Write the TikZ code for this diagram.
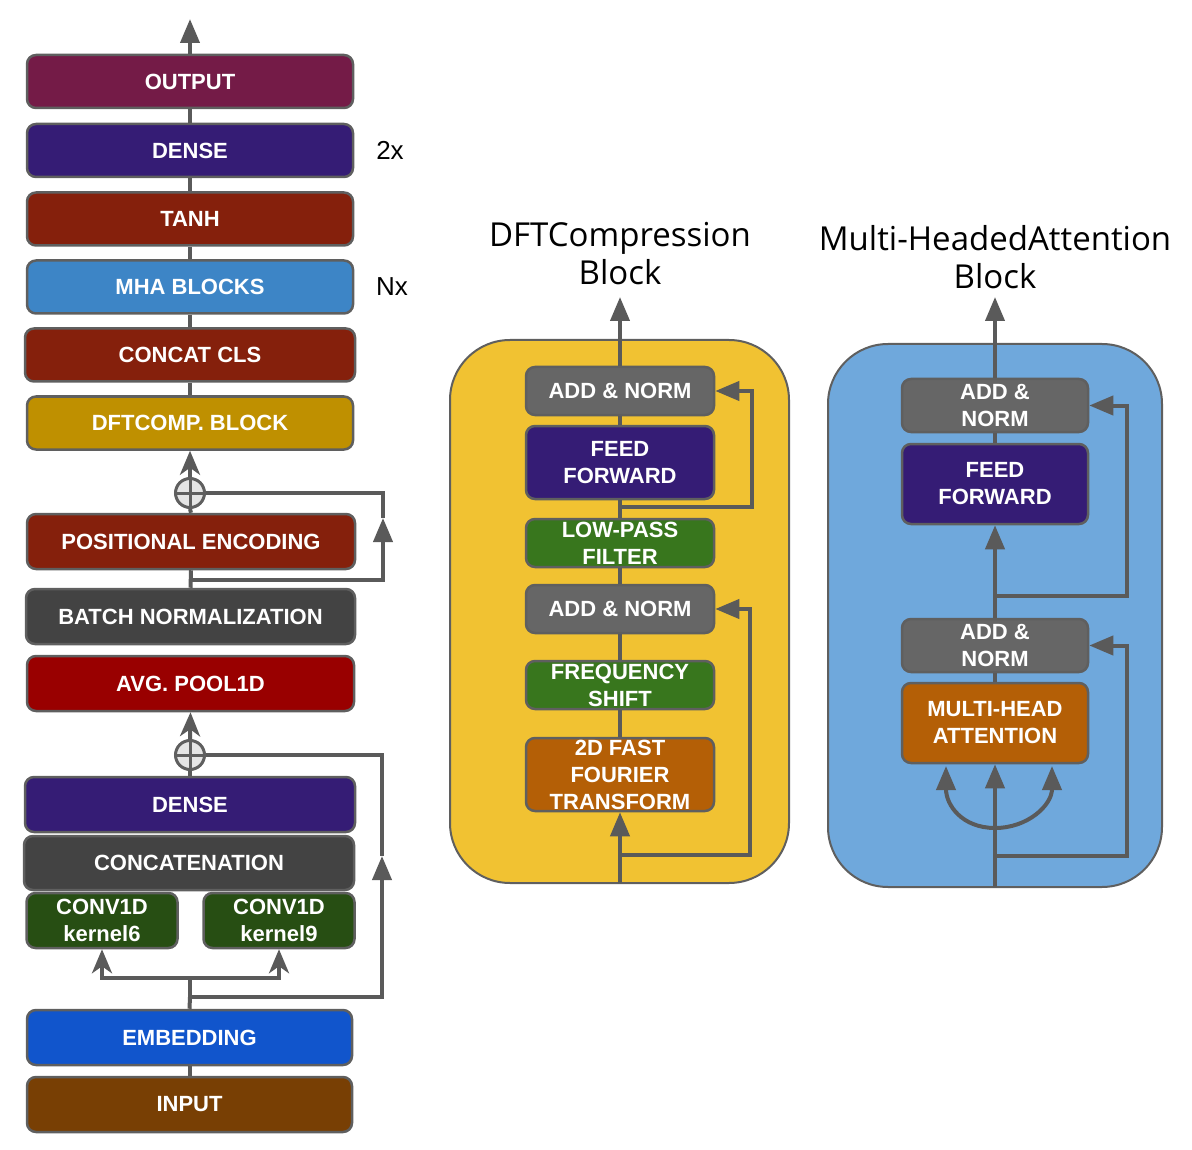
\documentclass[tikz,border=0pt]{standalone}
\usepackage{fontspec}
\setmainfont{Liberation Sans}
\newfontfamily\titlefont{Open Sans}
\usetikzlibrary{arrows.meta}
\definecolor{cOut}{HTML}{741B47}
\definecolor{cDense}{HTML}{351C75}
\definecolor{cRed}{HTML}{85200C}
\definecolor{cMha}{HTML}{3D85C6}
\definecolor{cGold}{HTML}{BF9000}
\definecolor{cDark}{HTML}{434343}
\definecolor{cPool}{HTML}{990000}
\definecolor{cConv}{HTML}{274E13}
\definecolor{cEmb}{HTML}{1155CC}
\definecolor{cInp}{HTML}{783F04}
\definecolor{cAdd}{HTML}{666666}
\definecolor{cGreen}{HTML}{38761D}
\definecolor{cOrange}{HTML}{B45F06}
\definecolor{cYellow}{HTML}{F1C232}
\definecolor{cBlue}{HTML}{6FA8DC}
\definecolor{cBorder}{HTML}{5F5F5F}
\definecolor{cLine}{HTML}{5A5A5A}
\newcommand\lbl{\bfseries\fontsize{22}{27}\selectfont}
\begin{document}
\begin{tikzpicture}[x=1pt,y=-1pt,
  box/.style={draw=cBorder, line width=2.5pt, rounded corners=9pt, text=white,
    font=\lbl, inner sep=0pt, align=center},
  conn/.style={draw=cLine, line width=4pt},
  tri/.style={-{Triangle[length=24pt,width=19pt]}},
  stl/.style={-{Stealth[length=24pt,width=20pt,inset=7pt]}},
  oplus/.style={circle, draw=cBorder, fill=black!10, line width=3pt, minimum size=29pt, inner sep=0pt},
  panel/.style={draw=cBorder, line width=2pt, rounded corners=60pt},
  ttl/.style={font=\titlefont\fontsize{33}{38}\selectfont, align=center, inner sep=0pt},
  side/.style={font=\fontsize{26}{30}\selectfont, inner sep=0pt}]
\useasboundingbox (0,0) rectangle (1192,1150);

% ---------------- left column ----------------
\node[box, fill=cOut, minimum width=326pt, minimum height=53pt] (out) at (190,81.5) {OUTPUT};
\node[box, fill=cDense, minimum width=326pt, minimum height=53pt] (dense1) at (190,150.5) {DENSE};
\node[box, fill=cRed, minimum width=326pt, minimum height=53pt] (tanh) at (190,219) {TANH};
\node[box, fill=cMha, minimum width=326pt, minimum height=53pt] (mhab) at (190,287) {MHA BLOCKS};
\node[box, fill=cRed, minimum width=330pt, minimum height=53pt] (ccls) at (190,355) {CONCAT CLS};
\node[box, fill=cGold, minimum width=326pt, minimum height=53pt] (dftc) at (190,423) {DFTCOMP. BLOCK};
\node[oplus] (ox1) at (190,493) {};
\node[box, fill=cRed, minimum width=328pt, minimum height=55pt] (pe) at (191,541.5) {POSITIONAL ENCODING};
\node[box, fill=cDark, minimum width=329pt, minimum height=55pt] (bn) at (190.5,616.5) {BATCH NORMALIZATION};
\node[box, fill=cPool, minimum width=327pt, minimum height=55pt] (ap) at (190.5,683.5) {AVG. POOL1D};
\node[oplus] (ox2) at (190,755) {};
\node[box, fill=cDense, minimum width=330pt, minimum height=55pt] (dense2) at (190,804.5) {DENSE};
\node[box, fill=cDark, minimum width=330pt, minimum height=54pt] (concat) at (189,863) {CONCATENATION};
\node[box, fill=cConv, minimum width=151pt, minimum height=55pt] (k6) at (102,920.5) {CONV1D\\kernel6};
\node[box, fill=cConv, minimum width=151pt, minimum height=55pt] (k9) at (279,920.5) {CONV1D\\kernel9};
\node[box, fill=cEmb, minimum width=325pt, minimum height=55pt] (emb) at (189.5,1037.5) {EMBEDDING};
\node[box, fill=cInp, minimum width=325pt, minimum height=55pt] (inp) at (189.5,1104.5) {INPUT};

\node[side] (two) at (390,150) {2x};
\node[side] (nx) at (392,287) {Nx};

\foreach \o in {ox1,ox2}{
  \draw[cBorder, line width=3pt] (\o.north) -- (\o.south) (\o.west) -- (\o.east);
}

\coordinate (outtop) at (190,19);
\draw[conn, tri] (out.north) -- (outtop);
\draw[conn] (out.south) -- (dense1.north);
\draw[conn] (dense1.south) -- (tanh.north);
\draw[conn] (tanh.south) -- (mhab.north);
\draw[conn] (mhab.south) -- (ccls.north);
\draw[conn] (ccls.south) -- (dftc.north);
\draw[conn, stl] (ox1.north) -- (dftc.south);
\draw[conn] (pe.north) -- (ox1.south);
\draw[conn] (bn.north) -- (pe.south);
\coordinate (j1) at (190,580);
\coordinate (r1a) at (383,580);
\coordinate (r1b) at (383,518);
\draw[conn, tri] (j1) -- (r1a) -- (r1b);
\draw[conn] (r1b) |- (ox1.east);
\draw[conn, stl] (ox2.north) -- (ap.south);
\draw[conn] (dense2.north) -- (ox2.south);
\coordinate (j2) at (190,997);
\coordinate (r2a) at (382,997);
\coordinate (r2b) at (382,856);
\draw[conn] (emb.north) -- (j2);
\draw[conn, tri] (j2) -- (r2a) -- (r2b);
\draw[conn] (r2b) |- (ox2.east);
\coordinate (js) at (190,978);
\draw[conn] (j2) -- (js);
\draw[conn, stl] (js) -| (k6.south);
\draw[conn, stl] (js) -| (k9.south);
\draw[conn] (inp.north) -- (emb.south);

% ---------------- DFT compression block ----------------
\path[panel, fill=cYellow] (450,340) rectangle (789,883);
\node[ttl] (dtitle) at (620,254) {DFTCompression\\Block};
\node[box, fill=cAdd, minimum width=188pt, minimum height=48pt] (dan1) at (620,391) {ADD \& NORM};
\node[box, fill=cDense, minimum width=188pt, minimum height=73pt] (dff) at (620,462.5) {FEED\\FORWARD};
\node[box, fill=cGreen, minimum width=188pt, minimum height=48pt] (dlp) at (620,543) {LOW-PASS\\FILTER};
\node[box, fill=cAdd, minimum width=188pt, minimum height=48pt] (dan2) at (620,609) {ADD \& NORM};
\node[box, fill=cGreen, minimum width=188pt, minimum height=48pt] (dfs) at (620,685) {FREQUENCY\\SHIFT};
\node[box, fill=cOrange, minimum width=188pt, minimum height=73pt] (dfft) at (620,774.5) {2D FAST\\FOURIER\\TRANSFORM};

\coordinate (dtop) at (620,297);
\coordinate (dbot) at (620,883);
\coordinate (dj1) at (620,507);
\coordinate (dr1) at (752,507);
\coordinate (dj2) at (620,855);
\coordinate (dr2) at (750,855);
\draw[conn, tri] (dan1.north) -- (dtop);
\draw[conn] (dff.north) -- (dan1.south);
\draw[conn] (dlp.north) -- (dff.south);
\draw[conn, tri] (dj1) -- (dr1) |- (dan1.east);
\draw[conn] (dan2.north) -- (dlp.south);
\draw[conn] (dfs.north) -- (dan2.south);
\draw[conn] (dfft.north) -- (dfs.south);
\draw[conn, tri] (dbot) -- (dfft.south);
\draw[conn, tri] (dj2) -- (dr2) |- (dan2.east);

% ---------------- Multi-headed attention block ----------------
\path[panel, fill=cBlue] (828,344) rectangle (1162,887);
\node[ttl] (mtitle) at (995,257) {Multi-HeadedAttention\\Block};
\node[box, fill=cAdd, minimum width=186pt, minimum height=53pt] (man1) at (995,405.5) {ADD \&\\NORM};
\node[box, fill=cDense, minimum width=186pt, minimum height=80pt] (mff) at (995,484) {FEED\\FORWARD};
\node[box, fill=cAdd, minimum width=186pt, minimum height=53pt] (man2) at (995,645.5) {ADD \&\\NORM};
\node[box, fill=cOrange, minimum width=186pt, minimum height=80pt] (mmha) at (995,723) {MULTI-HEAD\\ATTENTION};

\coordinate (mtop) at (995,297);
\coordinate (mbot) at (995,887);
\coordinate (mj1) at (995,596);
\coordinate (mr1) at (1127,596);
\coordinate (mj2) at (995,856);
\coordinate (mr2) at (1127,856);
\coordinate (mc) at (995,828);
\coordinate (ml) at (946,766);
\coordinate (mr) at (1052,766);
\draw[conn, tri] (man1.north) -- (mtop);
\draw[conn] (mff.north) -- (man1.south);
\draw[conn, tri] (man2.north) -- (mff.south);
\draw[conn, tri] (mj1) -- (mr1) |- (man1.east);
\draw[conn] (mmha.north) -- (man2.south);
\draw[conn, tri] (mbot) -- (mmha.south);
\draw[conn, tri] (mj2) -- (mr2) |- (man2.east);
\draw[conn, tri] (mc) .. controls (962,828) and (946,805) .. (ml);
\draw[conn, tri] (mc) .. controls (1028,828) and (1052,805) .. (mr);
\end{tikzpicture}
\end{document}
